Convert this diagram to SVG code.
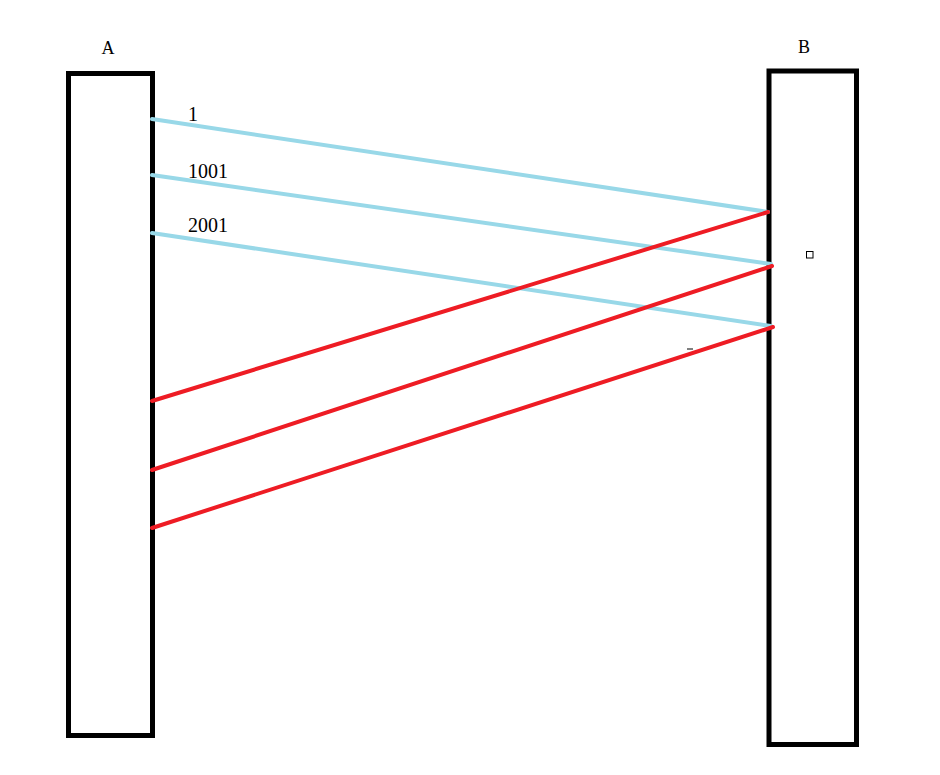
<svg xmlns="http://www.w3.org/2000/svg" width="940" height="775" viewBox="0 0 940 775">
<style>
.box{fill:#fff;stroke:#000;stroke-width:5}
.lbl{font-family:"Liberation Serif","DejaVu Serif",serif;font-size:18px;fill:#000}
.num{font-family:"Liberation Serif","DejaVu Serif",serif;font-size:20px;fill:#000}
.blue{stroke:#98d8e8;stroke-width:4;stroke-linecap:round;fill:none}
.red{stroke:#ee1c24;stroke-width:4;stroke-linecap:round;fill:none}
</style>
<rect width="940" height="775" fill="#fff"/>
<g id="nodeA">
<rect class="box" x="68.5" y="73.5" width="84" height="662"/>
<text class="lbl" x="108" y="54" text-anchor="middle">A</text>
</g>
<g id="nodeB">
<rect class="box" x="769" y="71" width="87.5" height="673.5"/>
<text class="lbl" x="804" y="53" text-anchor="middle">B</text>
<rect x="806.5" y="251.5" width="6.5" height="6.5" fill="none" stroke="#000" stroke-width="1"/>
<line x1="687" y1="349" x2="693" y2="349" stroke="#000" stroke-width="1"/>
</g>
<g id="connectors">
<line class="blue" x1="152" y1="119" x2="768" y2="212"/>
<line class="blue" x1="152" y1="175" x2="771" y2="264"/>
<line class="blue" x1="152" y1="233" x2="771" y2="326"/>
<line class="red" x1="152" y1="401" x2="768" y2="212"/>
<line class="red" x1="152" y1="470" x2="772" y2="266"/>
<line class="red" x1="152" y1="528" x2="773" y2="327"/>
<text class="num" x="188" y="121">1</text>
<text class="num" x="188" y="178">1001</text>
<text class="num" x="188" y="232">2001</text>
</g>
</svg>
